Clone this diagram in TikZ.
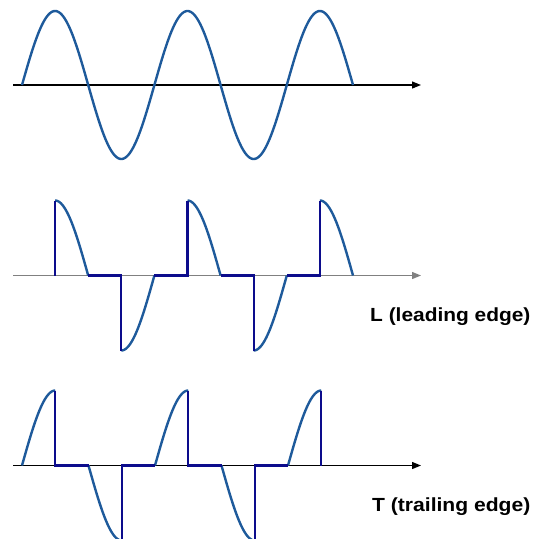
\documentclass[tikz,border=0pt]{standalone}
\usepackage{fontspec}
\setmainfont{Liberation Sans}
\usetikzlibrary{arrows.meta}
\definecolor{wavecol}{RGB}{30,90,155}
\definecolor{edgecol}{RGB}{12,12,140}
\definecolor{axisgray}{RGB}{128,128,128}
\begin{document}
\begin{tikzpicture}[x=1pt,y=-1pt,
  wavestyle/.style={draw=wavecol,line width=2.4pt},
  edgestyle/.style={draw=edgecol,line width=2.3pt,line join=miter},
  axisstyle/.style={draw=black,line width=1.2pt,-{Triangle[length=9pt,width=7pt]}},
  labelstyle/.style={font=\bfseries\fontsize{19}{22}\selectfont,anchor=base west,inner sep=0pt},
  declare function={sa(\x)=sin(2.71903*(\x-22)); sb(\x)=sin(2.70677*(\x-22));}]
\useasboundingbox (0,0) rectangle (533,539);
\clip (0,0) rectangle (533,539);
% ---------- top: sine ----------
\coordinate (a1s) at (13,85);
\coordinate (a1e) at (421,85);
\draw[axisstyle] (a1s) -- (a1e);
\draw[wavestyle] plot[domain=22:353,samples=250] (\x,{85-74*sa(\x)});
% ---------- middle: leading edge ----------
\coordinate (a2s) at (13,275.5);
\coordinate (a2e) at (421,275.5);
\draw[axisstyle,draw=axisgray] (a2s) -- (a2e);
\foreach \a/\b in {55.1/88.2,121.3/154.4,187.5/220.6,253.7/286.8,319.9/353}
  \draw[wavestyle] plot[domain=\a:\b,samples=60] (\x,{275.5-75*sa(\x)});
\draw[edgestyle] (55.1,275.5) -- (55.1,200.5);
\draw[edgestyle] (88.2,275.5) -- (121.3,275.5) -- (121.3,350.5);
\draw[edgestyle] (154.4,275.5) -- (187.5,275.5) -- (187.5,200.5);
\draw[edgestyle] (220.6,275.5) -- (253.7,275.5) -- (253.7,350.5);
\draw[edgestyle] (286.8,275.5) -- (319.9,275.5) -- (319.9,200.5);
\node[labelstyle] (lab1) at (370,321) {\scalebox{1.1}[1]{L (leading edge)}};
% ---------- bottom: trailing edge ----------
\coordinate (a3s) at (13,465.5);
\coordinate (a3e) at (421,465.5);
\draw[axisstyle] (a3s) -- (a3e);
\foreach \a/\b in {22/55.25,88.5/121.75,155/188.25,221.5/254.75,288/321.25}
  \draw[wavestyle] plot[domain=\a:\b,samples=60] (\x,{465.5-75*sb(\x)});
\draw[edgestyle] (55.25,390.5) -- (55.25,465.5) -- (88.5,465.5);
\draw[edgestyle] (121.75,540.5) -- (121.75,465.5) -- (155,465.5);
\draw[edgestyle] (188.25,390.5) -- (188.25,465.5) -- (221.5,465.5);
\draw[edgestyle] (254.75,540.5) -- (254.75,465.5) -- (288,465.5);
\draw[edgestyle] (321.25,390.5) -- (321.25,465.5);
\node[labelstyle] (lab2) at (372,511) {\scalebox{1.11}[1]{T (trailing edge)}};
\end{tikzpicture}
\end{document}
